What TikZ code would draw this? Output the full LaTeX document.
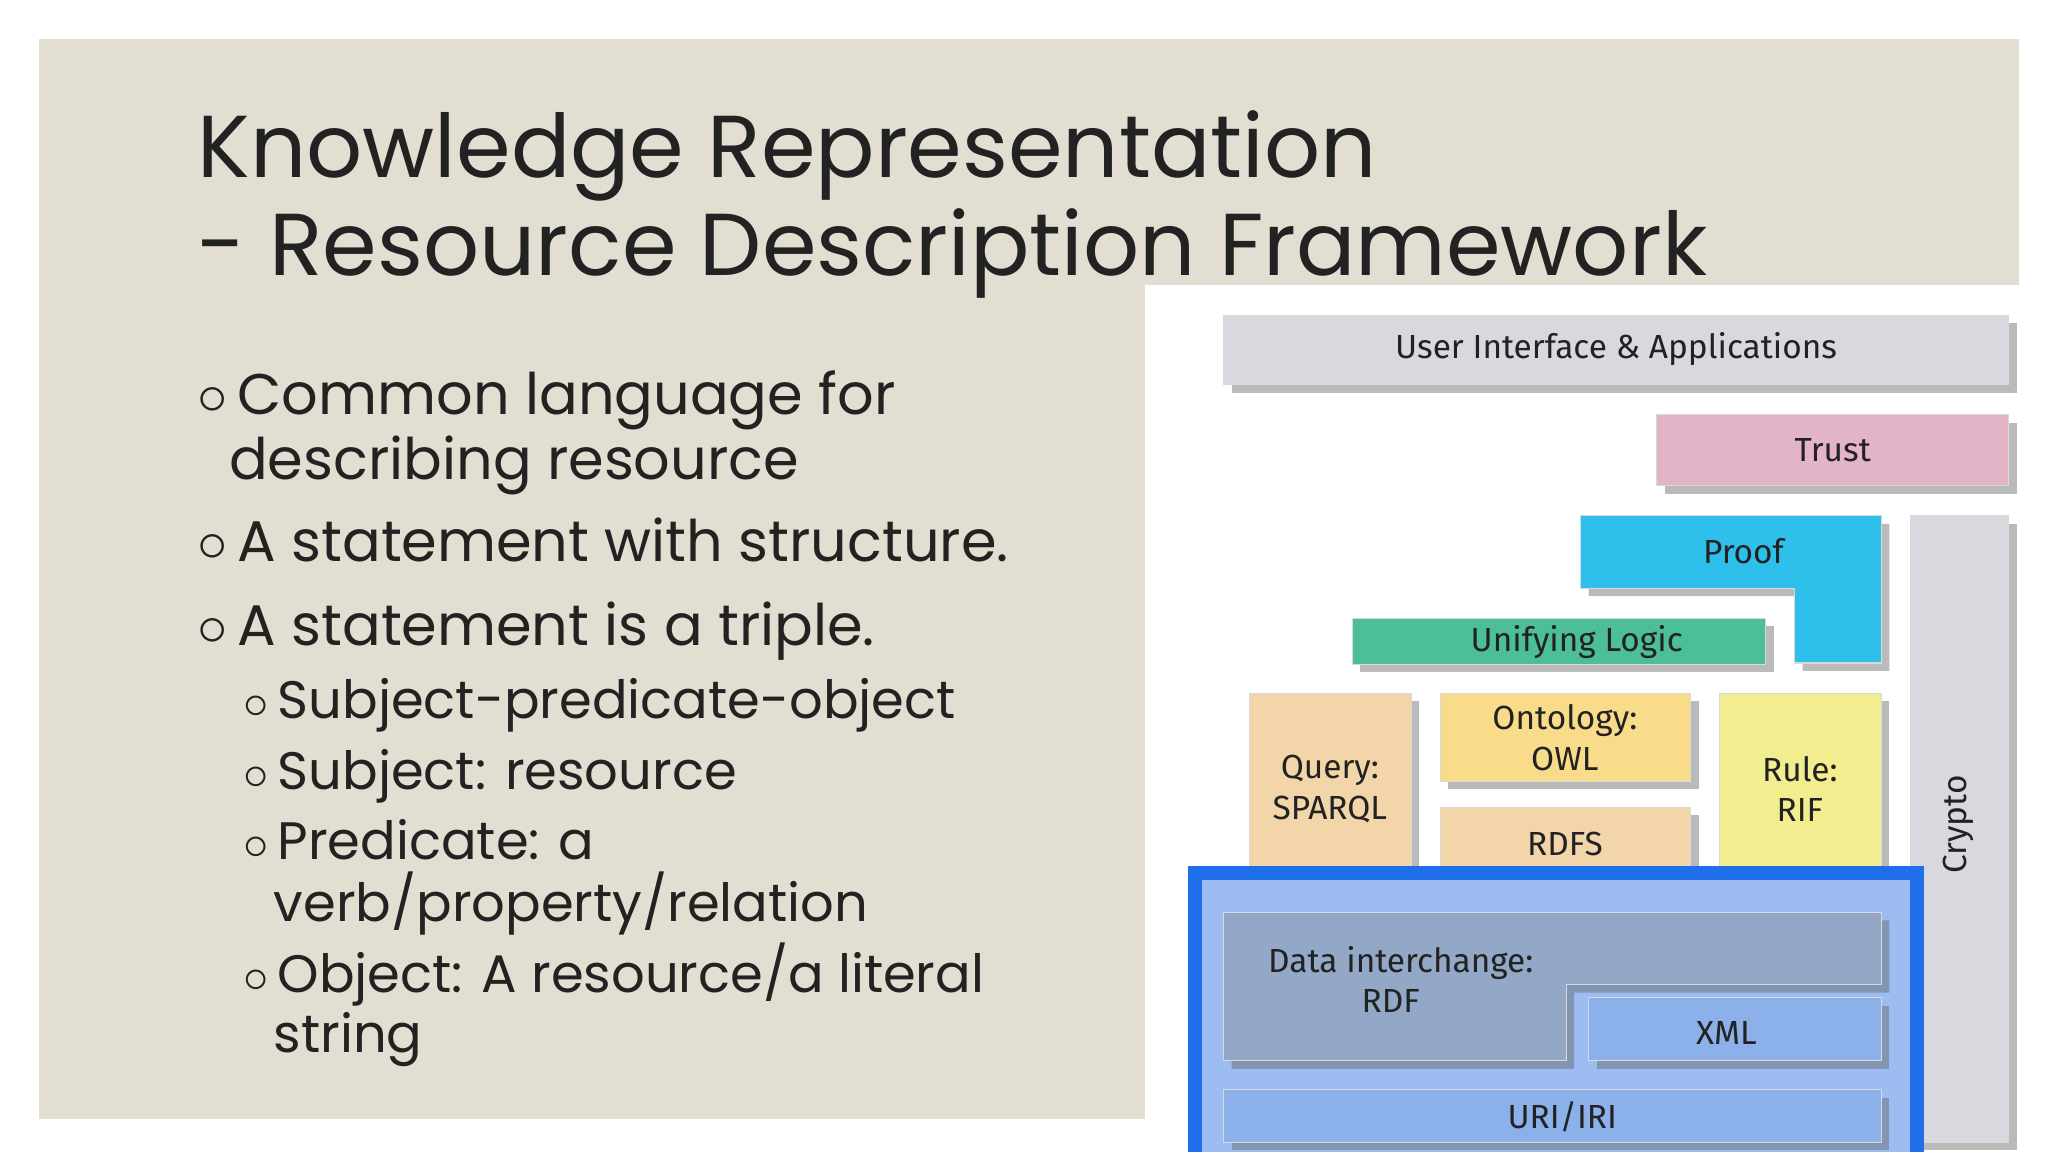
\documentclass[tikz,border=0pt]{standalone}
\usepackage{fontspec}
\setmainfont{Poppins}
\newfontfamily\dfont{Fira Sans}
\usetikzlibrary{shadows}
\definecolor{beige}{HTML}{E2DED2}
\definecolor{gbox}{HTML}{D8D8DE}
\definecolor{pinkb}{HTML}{E3B4C8}
\definecolor{cyanb}{HTML}{2EC0EA}
\definecolor{greenb}{HTML}{4DBE9A}
\definecolor{tanb}{HTML}{F2D5A8}
\definecolor{yelb}{HTML}{F9DC8A}
\definecolor{lyelb}{HTML}{F2EE90}
\definecolor{blueline}{HTML}{1F6FEA}
\definecolor{bluefill}{HTML}{9DBDF2}
\definecolor{rdfb}{HTML}{92A8C6}
\definecolor{xmlb}{HTML}{8CB0EA}
\definecolor{txt}{HTML}{222222}
\tikzset{box/.style={draw=black!15,line width=0.3pt,drop shadow={shadow xshift=0.08cm,shadow yshift=-0.08cm,opacity=0.45,fill=black!60}},
lab/.style={font=\dfont\fontsize{9.5}{11.5}\selectfont,text=txt,align=center},
ttl/.style={font=\fontsize{25}{30}\selectfont,text=txt,anchor=base west,inner sep=0},
b1/.style={font=\fontsize{16.3}{19}\selectfont,text=txt,anchor=base west,inner sep=0,align=left},
b2/.style={font=\fontsize{15}{17.5}\selectfont,text=txt,anchor=base west,inner sep=0,align=left}}
\begin{document}
\begin{tikzpicture}[x=0.013128cm,y=-0.013128cm]
\useasboundingbox (0,0) rectangle (1560,877.5);
\fill[white] (0,0) rectangle (1560,877.5);
\fill[beige] (30,30) rectangle (1538,852);
\fill[white] (872,217) rectangle (1556,877.5);
\node[ttl] (t1) at (150,135) {Knowledge Representation};
\node[ttl] (t2) at (150,210) {- Resource Description Framework};
\node[b1] (a) at (150,316) {$\circ$\,Common language for};
\node[b1] (a2) at (174,365) {describing resource};
\node[b1] (b) at (150,428) {$\circ$\,A statement with structure.};
\node[b1] (c) at (150,492) {$\circ$\,A statement is a triple.};
\node[b2] (d) at (185,547) {$\circ$\,Subject-predicate-object};
\node[b2] (e) at (185,601) {$\circ$\,Subject: resource};
\node[b2] (f) at (185,655) {$\circ$\,Predicate: a};
\node[b2] (f2) at (208,702) {verb/property/relation};
\node[b2] (g) at (185,756) {$\circ$\,Object: A resource/a literal};
\node[b2] (g2) at (208,802) {string};
% diagram
\fill[box,fill=gbox] (932,240) rectangle (1530,293);
\node[lab] (ui) at (1231,266) {User Interface \& Applications};
\fill[box,fill=pinkb] (1262,316) rectangle (1530,370);
\node[lab] (tr) at (1396,343) {Trust};
\fill[box,fill=cyanb] (1204,393) -- (1433,393) -- (1433,505) -- (1367,505) -- (1367,448) -- (1204,448) -- cycle;
\node[lab] (pr) at (1328,420) {Proof};
\fill[box,fill=gbox] (1455,393) rectangle (1530,870);
\node[lab,rotate=90] (cr) at (1492,628) {Crypto};
\fill[box,fill=greenb] (1030,471) rectangle (1345,506);
\node[lab] (ul) at (1201,489) {Unifying Logic};
\fill[box,fill=tanb] (952,528) rectangle (1075,660);
\node[lab] (q) at (1013,601) {Query:\\SPARQL};
\fill[box,fill=yelb] (1097,528) rectangle (1288,595);
\node[lab] (o) at (1192,562) {Ontology:\\OWL};
\fill[box,fill=tanb] (1097,615) rectangle (1288,660);
\node[lab] (rs) at (1192,643) {RDFS};
\fill[box,fill=lyelb] (1310,528) rectangle (1433,660);
\node[lab] (ru) at (1371,601) {Rule:\\RIF};
\fill[bluefill] (910,663) rectangle (1460,877.5);
\fill[box,fill=rdfb] (932,695) -- (1433,695) -- (1433,750) -- (1193,750) -- (1193,808) -- (932,808) -- cycle;
\node[lab,align=left] (rdf) at (1067,746) {Data interchange:\\\hspace*{2.8em}RDF};
\fill[box,fill=xmlb] (1210,760) rectangle (1433,808);
\node[lab] (x) at (1315,787) {XML};
\fill[box,fill=xmlb] (932,830) rectangle (1433,870);
\node[lab] (u) at (1190,851) {URI/IRI};
\draw[blueline,line width=4pt] (910,877.5) -- (910,665) -- (1460,665) -- (1460,877.5);
\end{tikzpicture}
\end{document}
